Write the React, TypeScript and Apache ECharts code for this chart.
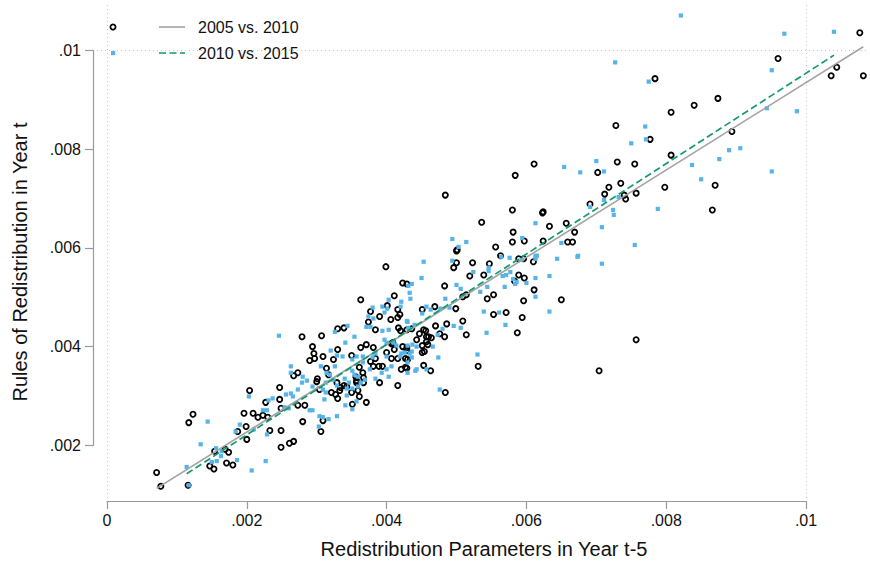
import { useEffect, useRef } from "react";
import * as echarts from "echarts";

// All point coordinates below are in units of 0.0001.
const SCALE = 1e-4;

// 2005 vs. 2010 pairs (hollow black circles)
const X_0510 = [
  20.4, 22.7, 12.3, 11.7, 19.6, 20.9, 21.6, 22.3, 18.7, 19.9, 20.0, 23.0, 23.3, 15.4, 16.9, 17.4, 14.7, 15.3, 17.1, 18.0,
  7.1, 7.7, 11.6, 27.9, 30.7, 33.0, 33.9, 29.4, 29.6, 29.0, 29.7, 30.9, 32.4, 33.0, 35.0, 31.4, 26.7, 27.3, 30.1, 30.0,
  32.9, 33.4, 33.9, 34.3, 35.0, 35.7, 32.1, 32.7, 33.0, 30.4, 24.7, 24.7, 24.9, 27.3, 28.3, 28.0, 30.9, 30.6, 24.9, 24.9,
  26.1, 26.7, 39.9, 42.3, 42.9, 41.1, 36.3, 40.1, 37.7, 39.0, 37.4, 40.6, 41.6, 41.9, 41.6, 45.1, 38.4, 41.7, 42.0, 42.9,
  43.6, 44.3, 45.3, 45.7, 36.3, 37.1, 38.1, 40.7, 42.3, 41.1, 40.0, 42.9, 45.1, 45.4, 37.7, 38.4, 38.1, 38.9, 39.4, 40.7,
  41.6, 42.7, 42.7, 45.3, 42.1, 36.1, 36.6, 35.6, 36.7, 35.7, 36.7, 39.0, 41.6, 31.7, 35.9, 33.3, 36.1, 35.1, 37.1, 53.6,
  58.1, 58.0, 55.6, 50.0, 50.1, 56.3, 52.3, 50.0, 49.6, 54.7, 51.9, 53.9, 58.3, 48.3, 51.4, 50.9, 54.4, 55.3, 46.9, 49.9,
  57.1, 55.3, 50.9, 48.6, 47.0, 51.4, 48.3, 47.6, 45.6, 46.0, 46.4, 45.7, 45.9, 44.7, 45.1, 43.0, 42.9, 46.3, 53.1, 40.9,
  42.9, 48.4, 58.4, 48.4, 70.2, 58.0, 62.3, 62.4, 69.1, 65.7, 63.3, 66.9, 59.7, 62.4, 65.9, 66.6, 58.9, 59.6, 61.0, 58.9,
  59.7, 61.1, 59.6, 65.0, 59.4, 58.7, 72.8, 77.7, 80.7, 61.1, 73.0, 75.5, 73.5, 71.8, 71.2, 74.0, 74.2, 75.7, 79.8, 107.7,
  104.4, 103.6, 108.2, 96.0, 78.4, 87.4, 84.0, 80.7, 89.4, 87.0, 86.6, 75.7, 70.4,
];
const Y_0510 = [
  31.1, 28.7, 26.3, 24.6, 26.5, 26.5, 25.7, 26.1, 22.8, 23.8, 21.2, 25.7, 23.0, 18.8, 19.2, 18.6, 15.8, 15.2, 16.4, 16.0,
  14.5, 11.7, 11.9, 42.0, 42.2, 43.6, 43.8, 40.0, 38.6, 37.2, 37.6, 38.0, 37.4, 39.4, 38.2, 35.6, 34.1, 34.7, 33.5, 32.9,
  32.7, 31.7, 32.1, 31.9, 30.7, 32.7, 30.7, 30.3, 29.5, 31.3, 31.7, 29.3, 27.5, 28.1, 28.1, 24.8, 25.0, 22.8, 23.0, 19.6,
  20.4, 20.8, 56.2, 52.9, 52.7, 50.3, 49.5, 48.3, 47.1, 46.1, 45.0, 45.5, 47.5, 46.5, 45.9, 47.5, 43.4, 43.8, 43.2, 43.4,
  43.6, 41.4, 43.4, 42.0, 39.8, 40.4, 39.8, 40.6, 40.0, 39.4, 38.8, 39.8, 40.2, 39.0, 37.0, 37.6, 36.0, 36.0, 36.0, 37.6,
  37.6, 37.6, 35.8, 36.2, 35.4, 35.8, 34.7, 33.9, 33.7, 33.1, 32.7, 32.7, 32.1, 34.3, 31.1, 31.1, 29.9, 28.3, 28.7, 65.2,
  63.2, 61.2, 60.2, 59.4, 59.6, 58.4, 57.0, 57.0, 56.0, 56.8, 54.3, 54.5, 53.3, 52.3, 50.5, 50.1, 49.7, 50.5, 48.1, 47.7,
  46.9, 46.5, 45.2, 44.6, 44.2, 42.4, 42.0, 42.6, 43.2, 42.0, 41.8, 41.0, 40.4, 42.6, 38.8, 37.4, 35.6, 35.1, 36.0, 40.8,
  39.2, 30.7, 74.7, 70.7, 75.3, 67.7, 67.1, 67.3, 68.9, 65.0, 64.4, 63.2, 61.4, 61.4, 61.2, 61.2, 57.8, 57.8, 57.2, 54.5,
  53.9, 51.5, 49.3, 49.5, 45.9, 42.8, 84.8, 82.0, 78.8, 77.0, 77.4, 77.0, 73.1, 72.3, 70.9, 70.7, 69.9, 71.1, 72.3, 103.6,
  96.6, 94.9, 94.9, 98.4, 94.3, 90.3, 88.9, 87.5, 83.6, 72.7, 67.7, 41.4, 35.1,
];

// 2010 vs. 2015 pairs (light blue squares)
const X_1015 = [
  20.3, 14.4, 19.0, 18.4, 21.0, 22.9, 22.9, 13.4, 15.6, 16.3, 15.7, 15.0, 18.6, 22.7, 20.7, 11.4, 11.7, 24.6, 34.4, 32.6,
  35.4, 34.1, 32.0, 32.9, 33.7, 35.7, 26.3, 26.3, 28.0, 28.6, 27.9, 30.6, 31.4, 31.9, 32.6, 35.1, 35.4, 35.9, 32.9, 34.0,
  34.6, 31.3, 31.1, 34.3, 35.7, 34.1, 35.1, 27.3, 25.6, 26.3, 26.6, 23.7, 23.1, 22.3, 25.4, 26.0, 29.0, 29.4, 30.4, 31.7,
  32.9, 30.9, 30.3, 16.4, 45.3, 45.0, 43.1, 43.3, 43.4, 42.1, 42.0, 40.3, 45.7, 40.1, 39.7, 38.1, 37.4, 37.1, 37.7, 39.4,
  40.3, 43.0, 43.1, 44.0, 39.7, 40.0, 41.0, 41.4, 43.0, 43.7, 44.3, 35.1, 36.6, 38.4, 40.0, 42.1, 43.3, 43.6, 43.0, 44.1,
  45.7, 38.0, 36.6, 37.6, 39.3, 40.3, 40.0, 38.4, 36.9, 36.3, 35.9, 35.1, 34.3, 31.3, 32.4, 30.9, 29.4, 49.4, 51.4, 50.3,
  49.4, 57.6, 56.4, 52.4, 54.6, 57.1, 58.6, 56.9, 54.4, 50.0, 50.6, 48.4, 43.6, 46.3, 45.1, 47.7, 49.0, 53.9, 56.1, 57.0,
  54.3, 50.6, 49.6, 48.0, 47.3, 46.6, 47.4, 53.0, 44.3, 43.0, 43.6, 41.9, 42.6, 40.7, 42.9, 39.4, 38.0, 47.6, 67.7, 69.1,
  61.3, 59.4, 65.0, 64.4, 67.3, 67.4, 61.3, 61.5, 61.3, 59.3, 63.3, 61.3, 60.0, 58.4, 58.1, 57.7, 56.6, 54.6, 53.4, 61.3,
  63.3, 77.0, 77.1, 75.0, 70.0, 65.4, 71.1, 73.2, 71.1, 72.4, 72.5, 78.8, 70.8, 75.5, 70.8, 82.1, 96.9, 104.0, 72.7, 77.5,
  95.1, 94.4, 98.7, 89.0, 90.6, 87.6, 83.7, 85.0, 95.1,
];
const Y_1015 = [
  29.9, 24.8, 24.2, 22.8, 23.2, 27.1, 22.2, 20.2, 19.4, 17.8, 16.8, 16.6, 17.0, 16.8, 14.9, 15.6, 11.9, 42.2, 44.2, 43.0,
  42.0, 40.8, 39.2, 38.2, 38.0, 38.0, 36.0, 34.7, 33.9, 33.1, 32.7, 36.0, 34.7, 34.3, 36.0, 35.1, 34.3, 33.9, 32.1, 33.5,
  32.7, 30.7, 29.3, 30.1, 28.9, 28.1, 27.3, 31.3, 30.3, 30.5, 29.9, 29.5, 29.1, 27.1, 27.7, 27.5, 27.1, 27.1, 25.9, 25.3,
  25.9, 25.7, 23.8, 18.8, 57.2, 53.9, 52.3, 50.9, 49.7, 49.1, 48.1, 49.5, 48.1, 47.7, 46.9, 45.7, 46.1, 44.0, 44.0, 43.2,
  43.4, 45.0, 43.8, 44.4, 41.4, 40.8, 40.8, 40.2, 40.2, 40.4, 40.0, 37.4, 38.0, 38.6, 38.0, 38.6, 38.6, 37.8, 36.8, 35.1,
  35.4, 37.8, 36.8, 35.4, 34.7, 33.9, 35.4, 33.5, 33.3, 32.7, 31.9, 31.5, 31.5, 32.7, 33.3, 31.3, 31.9, 61.8, 61.2, 60.2,
  57.4, 58.0, 58.2, 55.1, 55.3, 54.5, 53.1, 52.1, 52.1, 52.5, 51.7, 49.7, 52.7, 47.5, 46.7, 47.7, 47.9, 47.1, 46.9, 44.4,
  42.8, 43.8, 44.2, 43.6, 42.4, 40.0, 37.8, 38.4, 35.4, 34.7, 39.0, 38.0, 38.8, 36.0, 45.2, 48.1, 47.9, 31.3, 75.3, 68.3,
  65.0, 62.0, 61.0, 57.8, 58.2, 58.4, 58.4, 58.4, 57.8, 57.6, 54.3, 53.9, 52.9, 52.7, 53.7, 55.1, 54.3, 56.0, 51.1, 50.1,
  47.1, 84.6, 82.0, 81.2, 77.6, 76.4, 75.5, 70.3, 69.7, 67.7, 66.7, 67.9, 64.2, 60.6, 56.8, 107.1, 103.4, 103.8, 97.6, 93.7,
  96.0, 88.3, 87.7, 79.8, 80.2, 78.0, 76.8, 73.9, 75.5,
];

// Linear fits (intercept, slope) drawn over each sample's x-range
const FIT_0510 = { intercept: 0.0005, slope: 0.885 };
const FIT_1015 = { intercept: 0.00038, slope: 0.916 };

const X_TICKS = [0, 0.002, 0.004, 0.006, 0.008, 0.01];
const Y_TICKS = [0.002, 0.004, 0.006, 0.008, 0.01];

const LABEL_0510 = "2005 vs. 2010";
const LABEL_1015 = "2010 vs. 2015";
const X_TITLE = "Redistribution Parameters in Year t-5";
const Y_TITLE = "Rules of Redistribution in Year t";

// Visible plot ranges
const X_MIN = -0.000143;
const X_MAX = 0.010887;
const Y_MIN = 0.000932;
const Y_MAX = 0.010963;

const FONT = '"Liberation Sans", Arial, Helvetica, sans-serif';
const AXIS = "#9a9a9a";
const GRID = "#c4c4c4";
const BLUE = "#56B4E9";
const GREEN = "#12996f";
const GRAY = "#a3a3a3";

const fmt = (v: number) =>
  v === 0 ? "0" : String(Number(v.toFixed(4))).replace(/^0\./, ".");

const pairs = (xs: number[], ys: number[]) => xs.map((x, i) => [x * SCALE, ys[i] * SCALE]);

const fitLine = (xs: number[], fit: { intercept: number; slope: number }) => {
  const lo = Math.min(...xs) * SCALE;
  const hi = Math.max(...xs) * SCALE;
  return [
    [lo, fit.intercept + fit.slope * lo],
    [hi, fit.intercept + fit.slope * hi],
  ];
};

function buildOption(): echarts.EChartsCoreOption {
  const tickLabel = { fontSize: 16, color: "#111", fontFamily: FONT, formatter: fmt };
  return {
    animation: false,
    backgroundColor: "#fff",
    grid: [
      { left: 97, top: 3, width: 771, height: 495 },
      { left: 107, top: 401, width: 699, height: 100 },
      { left: 93, top: 50.5, width: 10, height: 394.8 },
    ],
    xAxis: [
      { gridIndex: 0, type: "value", min: X_MIN, max: X_MAX, show: false },
      {
        gridIndex: 1,
        type: "value",
        min: 0,
        max: 0.01,
        interval: 0.002,
        axisLine: { show: true, onZero: false, lineStyle: { color: AXIS, width: 1.2 } },
        axisTick: { show: true, length: 8, lineStyle: { color: AXIS, width: 1.2 } },
        axisLabel: { ...tickLabel, margin: 11 },
        splitLine: { show: false },
      },
      { gridIndex: 2, type: "value", min: 0, max: 1, show: false },
    ],
    yAxis: [
      { gridIndex: 0, type: "value", min: Y_MIN, max: Y_MAX, show: false },
      { gridIndex: 1, type: "value", min: 0, max: 1, show: false },
      {
        gridIndex: 2,
        type: "value",
        position: "left",
        min: 0.002,
        max: 0.01,
        interval: 0.002,
        axisLine: { show: true, onZero: false, lineStyle: { color: AXIS, width: 1.2 } },
        axisTick: { show: true, length: 8, lineStyle: { color: AXIS, width: 1.2 } },
        axisLabel: { ...tickLabel, margin: 12 },
        splitLine: { show: false },
      },
    ],
    series: [
      {
        // dotted reference grid at the tick values
        type: "scatter",
        xAxisIndex: 0,
        yAxisIndex: 0,
        data: [],
        z: 1,
        silent: true,
        markLine: {
          silent: true,
          symbol: ["none", "none"],
          label: { show: false },
          lineStyle: { color: GRID, width: 1, type: [1, 3] },
          data: [
            ...X_TICKS.map((v) => ({ xAxis: v })),
            ...Y_TICKS.map((v) => ({ yAxis: v })),
          ],
        },
      },
      {
        name: LABEL_0510,
        type: "scatter",
        xAxisIndex: 0,
        yAxisIndex: 0,
        data: pairs(X_0510, Y_0510),
        symbol: "circle",
        symbolSize: 5.2,
        itemStyle: { color: "rgba(0,0,0,0)", borderColor: "#000", borderWidth: 1.8, opacity: 1 },
        z: 3,
        silent: true,
      },
      {
        name: LABEL_1015,
        type: "scatter",
        xAxisIndex: 0,
        yAxisIndex: 0,
        data: pairs(X_1015, Y_1015),
        symbol: "rect",
        symbolSize: 4.2,
        itemStyle: { color: BLUE, opacity: 1 },
        z: 4,
        silent: true,
      },
      {
        type: "line",
        xAxisIndex: 0,
        yAxisIndex: 0,
        data: fitLine(X_0510, FIT_0510),
        showSymbol: false,
        symbol: "none",
        lineStyle: { color: GRAY, width: 1.6 },
        z: 5,
        silent: true,
      },
      {
        type: "line",
        xAxisIndex: 0,
        yAxisIndex: 0,
        data: fitLine(X_1015, FIT_1015),
        showSymbol: false,
        symbol: "none",
        lineStyle: { color: GREEN, width: 1.7, type: [7, 3.5] },
        z: 6,
        silent: true,
      },
    ],
    graphic: [
      {
        type: "circle",
        shape: { cx: 113, cy: 27, r: 2.6 },
        style: { fill: "none", stroke: "#000", lineWidth: 1.8 },
        z: 10,
      },
      {
        type: "rect",
        shape: { x: 111, y: 51, width: 4.2, height: 4.2 },
        style: { fill: BLUE },
        z: 10,
      },
      {
        type: "line",
        shape: { x1: 159, y1: 27, x2: 185, y2: 27 },
        style: { stroke: GRAY, lineWidth: 1.6 },
        z: 10,
      },
      {
        type: "line",
        shape: { x1: 159, y1: 53, x2: 185, y2: 53 },
        style: { stroke: GREEN, lineWidth: 1.7, lineDash: [7, 3.5] },
        z: 10,
      },
      {
        type: "text",
        x: 198,
        y: 27,
        style: { text: LABEL_0510, fontSize: 16, fontFamily: FONT, fill: "#111", verticalAlign: "middle", align: "left" },
        z: 10,
      },
      {
        type: "text",
        x: 198,
        y: 53,
        style: { text: LABEL_1015, fontSize: 16, fontFamily: FONT, fill: "#111", verticalAlign: "middle", align: "left" },
        z: 10,
      },
      {
        type: "text",
        x: 484,
        y: 549,
        style: { text: X_TITLE, fontSize: 20, fontFamily: FONT, fill: "#111", align: "center", verticalAlign: "middle" },
        z: 10,
      },
      {
        type: "text",
        x: 20,
        y: 262,
        rotation: Math.PI / 2,
        style: { text: Y_TITLE, fontSize: 20, fontFamily: FONT, fill: "#111", align: "center", verticalAlign: "middle" },
        z: 10,
      },
    ],
  };
}

export default function App() {
  const ref = useRef<HTMLDivElement>(null);
  useEffect(() => {
    if (!ref.current) return;
    const chart = echarts.init(ref.current, null, { renderer: "svg" });
    chart.setOption(buildOption());
    return () => chart.dispose();
  }, []);
  return (
    <div
      ref={ref}
      style={{ position: "fixed", left: 0, top: 0, width: 870, height: 562, background: "#fff" }}
    />
  );
}
